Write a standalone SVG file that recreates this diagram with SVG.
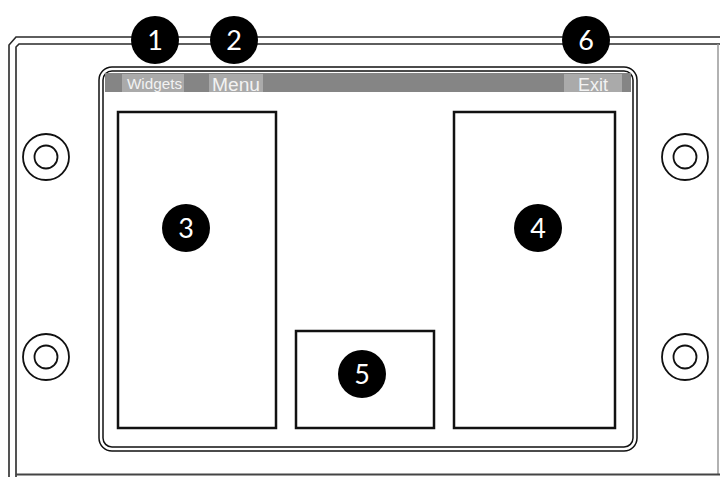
<svg xmlns="http://www.w3.org/2000/svg" width="720" height="477" viewBox="0 0 720 477">
<style>
.frame{fill:none;stroke:#2a2a2a;stroke-width:1.6}
.bez{fill:none;stroke:#111;stroke-width:1.5}
.box{fill:#fff;stroke:#111;stroke-width:2.5}
.screw{fill:none;stroke:#111;stroke-width:1.8}
.bar{fill:#858585}
.tab{fill:#aaaaaa}
.tabtxt{font-family:"Liberation Sans",Arial,sans-serif;fill:#f2f2f2}
.badge{fill:#000}
.num{font-family:Lato,"Noto Sans",sans-serif;font-size:27px;fill:#fff;text-anchor:middle}
</style>
<rect width="720" height="477" fill="#fff"/>
<g id="panel">
<path class="frame" d="M9,477 V45 L16,37 H720"/>
<path class="frame" d="M16,477 V47 L19,44 H720"/>
<line x1="718" y1="44" x2="718" y2="474" stroke="#999" stroke-width="1.5"/>
<line x1="16" y1="474.5" x2="720" y2="474.5" stroke="#444" stroke-width="2"/>
</g>
<g id="screws">
<circle class="screw" cx="46" cy="157" r="23"/><circle class="screw" cx="46" cy="157" r="11.5"/>
<circle class="screw" cx="46" cy="357" r="23"/><circle class="screw" cx="46" cy="357" r="11.5"/>
<circle class="screw" cx="685" cy="157" r="23"/><circle class="screw" cx="685" cy="157" r="11.5"/>
<circle class="screw" cx="685" cy="357" r="23"/><circle class="screw" cx="685" cy="357" r="11.5"/>
</g>
<g id="bezel">
<rect class="bez" x="99" y="67" width="538" height="384" rx="13"/>
<rect class="bez" x="103" y="71" width="530" height="376" rx="9"/>
<rect class="bar" x="105" y="73" width="526" height="19"/>
</g>
<g id="tab-widgets">
<rect class="tab" x="122" y="74" width="62" height="18"/>
<text class="tabtxt" x="127" y="88.5" font-size="14" textLength="55" lengthAdjust="spacingAndGlyphs">Widgets</text>
</g>
<g id="tab-menu">
<rect class="tab" x="209" y="74" width="54" height="18"/>
<text class="tabtxt" x="212" y="90.5" font-size="18" textLength="48" lengthAdjust="spacingAndGlyphs">Menu</text>
</g>
<g id="tab-exit">
<rect class="tab" x="564" y="74" width="58" height="18"/>
<text class="tabtxt" x="578" y="90.5" font-size="18" textLength="30" lengthAdjust="spacingAndGlyphs">Exit</text>
</g>
<g id="area3"><rect class="box" x="118" y="112" width="158" height="316"/></g>
<g id="area4"><rect class="box" x="454" y="112" width="161" height="316"/></g>
<g id="area5"><rect class="box" x="296" y="331" width="138" height="97"/></g>
<g id="callouts">
<g id="c1"><circle class="badge" cx="155" cy="40" r="24"/><text class="num" x="155" y="50">1</text></g>
<g id="c2"><circle class="badge" cx="234" cy="40" r="24"/><text class="num" x="234" y="50">2</text></g>
<g id="c6"><circle class="badge" cx="586" cy="40" r="24"/><text class="num" x="586" y="50">6</text></g>
<g id="c3"><circle class="badge" cx="186" cy="228" r="24"/><text class="num" x="186" y="238">3</text></g>
<g id="c4"><circle class="badge" cx="538" cy="228" r="24"/><text class="num" x="538" y="238">4</text></g>
<g id="c5"><circle class="badge" cx="362" cy="374" r="24"/><text class="num" x="362" y="384">5</text></g>
</g>
</svg>
